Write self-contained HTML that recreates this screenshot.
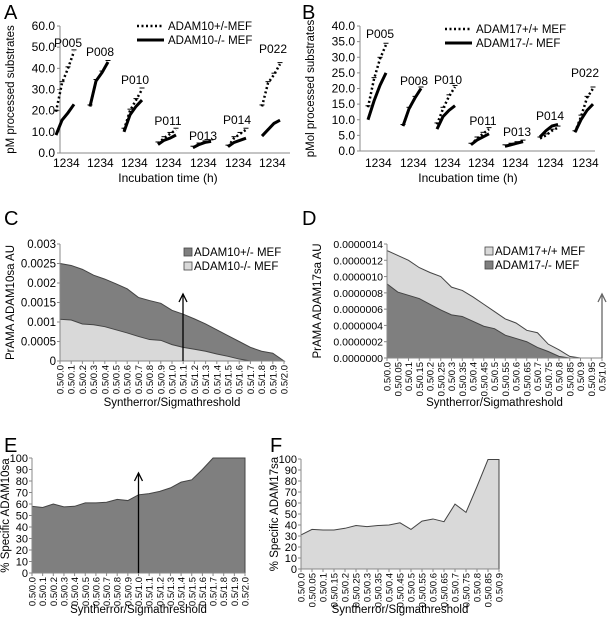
<!DOCTYPE html>
<html><head><meta charset="utf-8"><style>
html,body{margin:0;padding:0;background:#fff;}
svg{display:block;font-family:"Liberation Sans",Arial,sans-serif;}
</style></head><body>
<svg id="s" width="609" height="622" viewBox="0 0 609 622" xmlns="http://www.w3.org/2000/svg"></svg>
<script>
const S=document.getElementById('s');let h='';
function t(x,y,s,sz,anc,extra){h+=`<text x="${x}" y="${y}" font-size="${sz}" text-anchor="${anc||'start'}" ${extra||''}>${s}</text>`;}
function l(x1,y1,x2,y2,st){h+=`<line x1="${x1}" y1="${y1}" x2="${x2}" y2="${y2}" ${st}/>`;}
t(4,19,'A',20);t(302,19,'B',20);t(4,225,'C',20);t(302,225,'D',20);t(4,452,'E',20);t(270,452,'F',20);
function linePanel(ax,y0,ytop,xend,max,step,groups,starts,labels,legend,ytitle,lx){
 const sc=(y0-ytop)/max;
 l(ax,ytop,ax,y0,'stroke="#888"');l(ax,y0,xend,y0,'stroke="#888"');
 for(let v=0;v<=max+1e-9;v+=step){const y=y0-v*sc;l(ax-3,y,ax,y,'stroke="#888"');t(ax-5,y+4,v.toFixed(1),12,'end');}
 groups.forEach((g,i)=>{const gs=starts[i];
  const pts=k=>g[k].map((v,j)=>`${gs+3+j*6},${y0-v*sc}`).join(' ');
  h+=`<polyline points="${pts(0)}" fill="none" stroke="#000" stroke-width="2.5" stroke-dasharray="2,2.5"/>`;
  h+=`<polyline points="${pts(1)}" fill="none" stroke="#000" stroke-width="3"/>`;
  g[0].forEach((v,j)=>{const x=gs+3+j*6,y=y0-v*sc;l(x-2.5,y-1.5,x+2.5,y-1.5,'stroke="#000"');});
  t(gs,167,'1234',12);t(labels[i][0],labels[i][1],labels[i][2],12,'middle');
 });
 t(lx[0],lx[1],'Incubation time (h)',12,'middle');
 l(legend[0],legend[1],legend[0]+27,legend[1],'stroke="#000" stroke-width="2.5" stroke-dasharray="2,2.5"');
 l(legend[0],legend[1]+14,legend[0]+27,legend[1]+14,'stroke="#000" stroke-width="3"');
 t(legend[0]+31,legend[1]+4,legend[2],11.5);t(legend[0]+31,legend[1]+18,legend[3],11.5);
 t(0,0,ytitle,11.5,'middle',`transform="translate(${ax-46},${(y0+ytop)/2}) rotate(-90)"`);
}
linePanel(60,153,26,290,60,10,
 [[[19.5,33,40,48],[8.5,15.5,19,23]],[[22,34,38,43],[22,34,38,43]],[[11,20,25,30],[10,18,22,25]],[[4.5,7,9,11],[4,6,7,8.5]],[[2.5,4,5,5.5],[2.5,4,5,5.5]],[[3,7,9,11],[3,5,6,7]],[[22,33,37,42],[8,11,14,15.5]]],
 [53,87,121,155,190,225,259],
 [[68,47,'P005'],[100,56,'P008'],[135,84,'P010'],[168,125,'P011'],[203,140,'P013'],[237,124,'P014'],[273,53,'P022']],
 [137,26,'ADAM10+/-MEF','ADAM10-/- MEF'],'pM processed substrates',[168,182]);
linePanel(360,151,26,595,40,5,
 [[[14,23,29.5,34],[10,16,21,25]],[[8,13.5,17,20],[8,13.5,17,20]],[[8.5,13.5,17.5,20.5],[7,11,13,14.5]],[[2,4,5.5,7],[2,3.5,4.5,5.5]],[[1.5,2,2.5,3],[1.5,2,2.5,3]],[[4,5,6.5,7.5],[4.5,6.5,8,8.5]],[[6,11,17,20],[6,10,13,15]]],
 [365,400,434,468,502,537,572],
 [[380,38,'P005'],[414,85,'P008'],[448,84,'P010'],[483,125,'P011'],[517,136,'P013'],[550,120,'P014'],[585,77,'P022']],
 [445,29,'ADAM17+/+  MEF','ADAM17-/- MEF'],'pMol processed substrates',[468,182]);
function area(ax,y0,ytop,xend,max,series,cols,cats,yt,ydec,ytitle,titleX,titleY,arrow,yfs){
 const n=cats.length,dx=(xend-ax)/(n-1),sc=(y0-ytop)/max;
 series.forEach((s,k)=>{let p=s.map((v,i)=>`${ax+i*dx},${y0-v*sc}`).join(' ');
  h+=`<polygon points="${ax},${y0} ${p} ${xend},${y0}" fill="${cols[k]}" stroke="#444" stroke-width="1"/>`;});
 l(ax,ytop,ax,y0,'stroke="#888"');l(ax,y0,xend,y0,'stroke="#888"');
 yt.forEach(v=>{const y=y0-v*sc;l(ax-3,y,ax,y,'stroke="#888"');t(ax-4,y+4,ydec(v),yfs,'end');});
 cats.forEach((c,i)=>{const x=ax+i*dx;l(x,y0,x,y0+3,'stroke="#888"');t(0,0,c,9.5,'end',`transform="translate(${x+3.5},${y0+4}) rotate(-90)"`);});
 t(0,0,ytitle,11.5,'middle',`transform="translate(${titleX},${(y0+ytop)/2}) rotate(-90)"`);
 t((ax+xend)/2,titleY,'Syntherror/Sigmathreshold',11.5,'middle');
 if(arrow){l(arrow[0],y0,arrow[0],arrow[1],`stroke="${arrow[2]}" stroke-width="1.3"`);
  h+=`<polyline points="${arrow[0]-4},${arrow[1]+8} ${arrow[0]},${arrow[1]} ${arrow[0]+4},${arrow[1]+8}" fill="none" stroke="${arrow[2]}" stroke-width="1.3"/>`;}
}
const c10=[...Array(21)].map((_,i)=>'0.5/'+(i/10).toFixed(1));
const c17=[...Array(21)].map((_,i)=>'0.5/'+(i===20?'1.0':(i%2?(i*0.05).toFixed(2):(i*0.05).toFixed(1))));
area(60,361,244,284,0.003,
 [[0.0025,0.00245,0.00235,0.0022,0.0021,0.00198,0.00185,0.00163,0.00155,0.00148,0.0013,0.0012,0.00108,0.00095,0.0008,0.00065,0.0005,0.00035,0.00025,0.0002,0],
  [0.00107,0.00105,0.00095,0.00093,0.00088,0.0008,0.00072,0.00063,0.00055,0.00053,0.00042,0.00035,0.0003,0.00025,0.00018,0.00012,0.00005,0,0,0,0]],
 ['#7f7f7f','#d9d9d9'],c10,[0,0.0005,0.001,0.0015,0.002,0.0025,0.003],v=>v===0?'0':String(+v.toFixed(4)),'PrAMA ADAM10sa AU',14,406,[183,294,'#000'],11.5);
area(387,358,244,602,14,
 [[13.2,12.6,12,11.1,10.5,10,8.7,8.3,7.5,6.6,5.7,4.8,4.3,3.4,3.1,1.7,1,0.2,0,0,0],
  [9.1,8.1,7.7,7.3,6.6,5.9,5.3,5.1,4.5,3.9,3.6,2.8,2.4,2,1.3,0.8,0.2,0,0,0,0]],
 ['#d9d9d9','#7f7f7f'],c17,[0,2,4,6,8,10,12,14],v=>(v/1e7).toFixed(7),'PrAMA ADAM17sa AU',321,406,[602,294,'#666'],10.5);
area(32,573,458,245,100,[[58,57,60,57.5,58,61,61,61.5,64,63,68,69,71,74,79,81,90,100,100,100,100]],
 ['#7f7f7f'],c10,[0,10,20,30,40,50,60,70,80,90,100],v=>String(v),'% Specific ADAM10sa',9,613,[138.5,473,'#000'],11);
area(301,569,459,499,100,[[31,36,35.5,35.5,37,39.5,38.5,39.5,40,42,36,43.5,45.5,43,59,51.5,75,99.5,99.5]],
 ['#d9d9d9'],c17.slice(0,19),[0,10,20,30,40,50,60,70,80,90,100],v=>String(v),'% Specific ADAM17sa',278,613,null,11);
function sq(x,y,c,txt){h+=`<rect x="${x}" y="${y-8}" width="8" height="8" fill="${c}" stroke="#444" stroke-width="0.8"/>`;t(x+10,y,txt,11.5);}
sq(184,256,'#7f7f7f','ADAM10+/- MEF');sq(184,270,'#d9d9d9','ADAM10-/- MEF');
sq(485,255,'#d9d9d9','ADAM17+/+ MEF');sq(485,269,'#7f7f7f','ADAM17-/- MEF');
S.innerHTML=h;
</script>
</body></html>
